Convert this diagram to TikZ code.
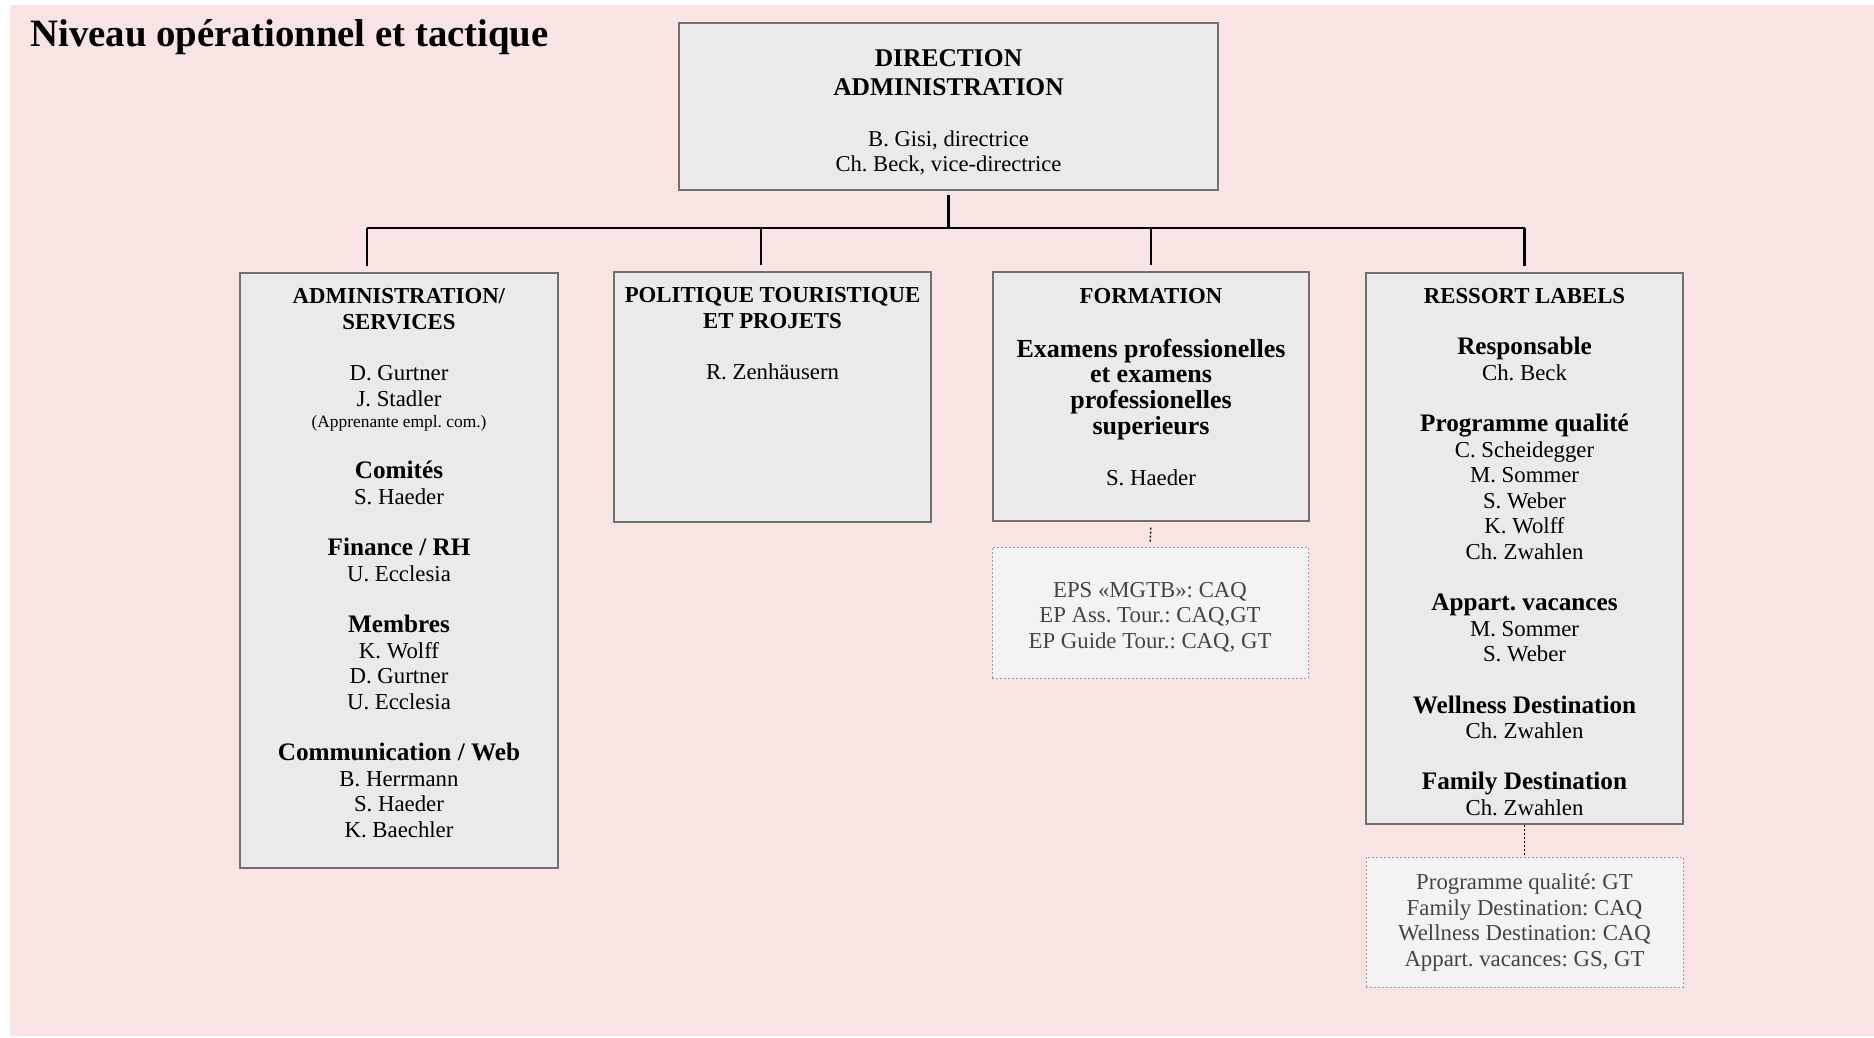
\documentclass[tikz,border=0pt]{standalone}
\usepackage{fontspec}
\setmainfont{Liberation Serif}
\frenchspacing
\usetikzlibrary{positioning,fit}
\definecolor{bgpink}{HTML}{F9E4E4}
\definecolor{boxfill}{HTML}{EAEAEA}
\definecolor{boxline}{HTML}{707070}
\definecolor{notefill}{HTML}{F3F3F3}
\definecolor{noteline}{HTML}{9A9A9A}
\definecolor{notetext}{HTML}{444444}
\newcommand{\caphd}[1]{\textbf{#1}}
\newcommand{\hd}[2][12.6]{{\fontsize{#1}{12.8}\selectfont\bfseries #2}}
\tikzset{
  orgbox/.style={draw=boxline, fill=boxfill, line width=0.7pt, inner sep=0pt},
  notebox/.style={draw=noteline, fill=notefill, line width=0.5pt, dash pattern=on 1pt off 1pt, inner sep=0pt},
  boxtext/.style={align=center, inner sep=0pt, anchor=north, font=\fontsize{11.4}{12.8}\selectfont, execute at begin node=\strut},
  notetxt/.style={boxtext, text=notetext},
  link/.style={line width=1.1pt},
  notelink/.style={line width=0.7pt, dash pattern=on 1pt off 1pt},
}
\begin{document}
\begin{tikzpicture}[x=0.5pt, y=-0.5pt]
\useasboundingbox (0,0) rectangle (1874,1038);
\fill[white] (0,0) rectangle (1874,1038);
\fill[bgpink] (10,5) rectangle (1874,1036);
\node[anchor=base west, inner sep=0pt, font=\fontsize{19.4}{22}\selectfont\bfseries] (title) at (30,47) {Niveau opérationnel et tactique};

\node[orgbox, fit={(679,23) (1218,190)}] (dir) {};
\node[orgbox, fit={(240,273) (558,868)}] (admin) {};
\node[orgbox, fit={(614,272) (931,522)}] (pol) {};
\node[orgbox, fit={(993,272) (1309,521)}] (form) {};
\node[notebox, fit={(992,547) (1308,678)}] (formsub) {};
\node[orgbox, fit={(1366,273) (1683,824)}] (res) {};
\node[notebox, fit={(1366,857) (1683,987)}] (ressub) {};

\node[boxtext, font=\fontsize{11.3}{12.5}\selectfont, below=13.65pt of dir.north] (dirtxt) {{\fontsize{12.75}{14.5}\selectfont\bfseries DIRECTION}\\[2pt] {\fontsize{12.75}{14.5}\selectfont\bfseries ADMINISTRATION}\\[13pt] B. Gisi, directrice\\ Ch. Beck, vice-directrice};
\node[boxtext, below=8.05pt of admin.north] (admintxt) {\caphd{ADMINISTRATION/}\\ \caphd{SERVICES}\\[12.8pt] D. Gurtner\\ J. Stadler\\[-2.2pt] {\fontsize{8.7}{10}\selectfont (Apprenante empl. com.)}\\[12.9pt] \hd{Comités}\\ S. Haeder\\[12.8pt] \hd{Finance / RH}\\ U. Ecclesia\\[12.8pt] \hd{Membres}\\ K. Wolff\\ D. Gurtner\\ U. Ecclesia\\[12.8pt] \hd{Communication / Web}\\ B. Herrmann\\ S. Haeder\\ K. Baechler};
\node[boxtext, below=8.05pt of pol.north] (poltxt) {\caphd{POLITIQUE TOURISTIQUE}\\ \caphd{ET PROJETS}\\[12.8pt] R. Zenhäusern};
\node[boxtext, below=8.5pt of form.north] (formtxt) {\caphd{FORMATION}\\[14pt] \hd[13]{Examens professionelles}\\ \hd[13]{et examens}\\ \hd[13]{professionelles}\\ \hd[13]{superieurs}\\[12.8pt] S. Haeder};
\node[notetxt, below=17.5pt of formsub.north] (formsubtxt) {EPS «MGTB»: CAQ\\ EP Ass. Tour.: CAQ,GT\\ EP Guide Tour.: CAQ, GT};
\node[boxtext, below=7.8pt of res.north] (restxt) {\caphd{RESSORT LABELS}\\[12.8pt] \hd{Responsable}\\ Ch. Beck\\[12.8pt] \hd{Programme qualité}\\ C. Scheidegger\\ M. Sommer\\ S. Weber\\ K. Wolff\\ Ch. Zwahlen\\[12.8pt] \hd{Appart. vacances}\\ M. Sommer\\ S. Weber\\[12.8pt] \hd{Wellness Destination}\\ Ch. Zwahlen\\[12.8pt] \hd{Family Destination}\\ Ch. Zwahlen};
\node[notetxt, below=8.4pt of ressub.north] (ressubtxt) {Programme qualité: GT\\ Family Destination: CAQ\\ Wellness Destination: CAQ\\ Appart. vacances: GS, GT};

\coordinate (bus) at (949,228);
\coordinate (adminTop) at ([xshift=-16pt]admin.north);
\coordinate (polTop) at ([xshift=-5.75pt]pol.north);
\draw[link, shorten <=2pt] (dir.south) -- (dir.south |- bus);
\draw[link] (adminTop |- bus) -- (res.north |- bus);
\draw[link, shorten >=3pt] (adminTop |- bus) -- (adminTop);
\draw[link, shorten >=3pt] (polTop |- bus) -- (polTop);
\draw[link, shorten >=3pt] (form.north |- bus) -- (form.north);
\draw[link, shorten >=3pt] (res.north |- bus) -- (res.north);
\draw[notelink, shorten <=3pt, shorten >=2.5pt] (form.south) -- (formsub.north);
\draw[notelink] (res.south) -- (ressub.north);
\end{tikzpicture}
\end{document}
